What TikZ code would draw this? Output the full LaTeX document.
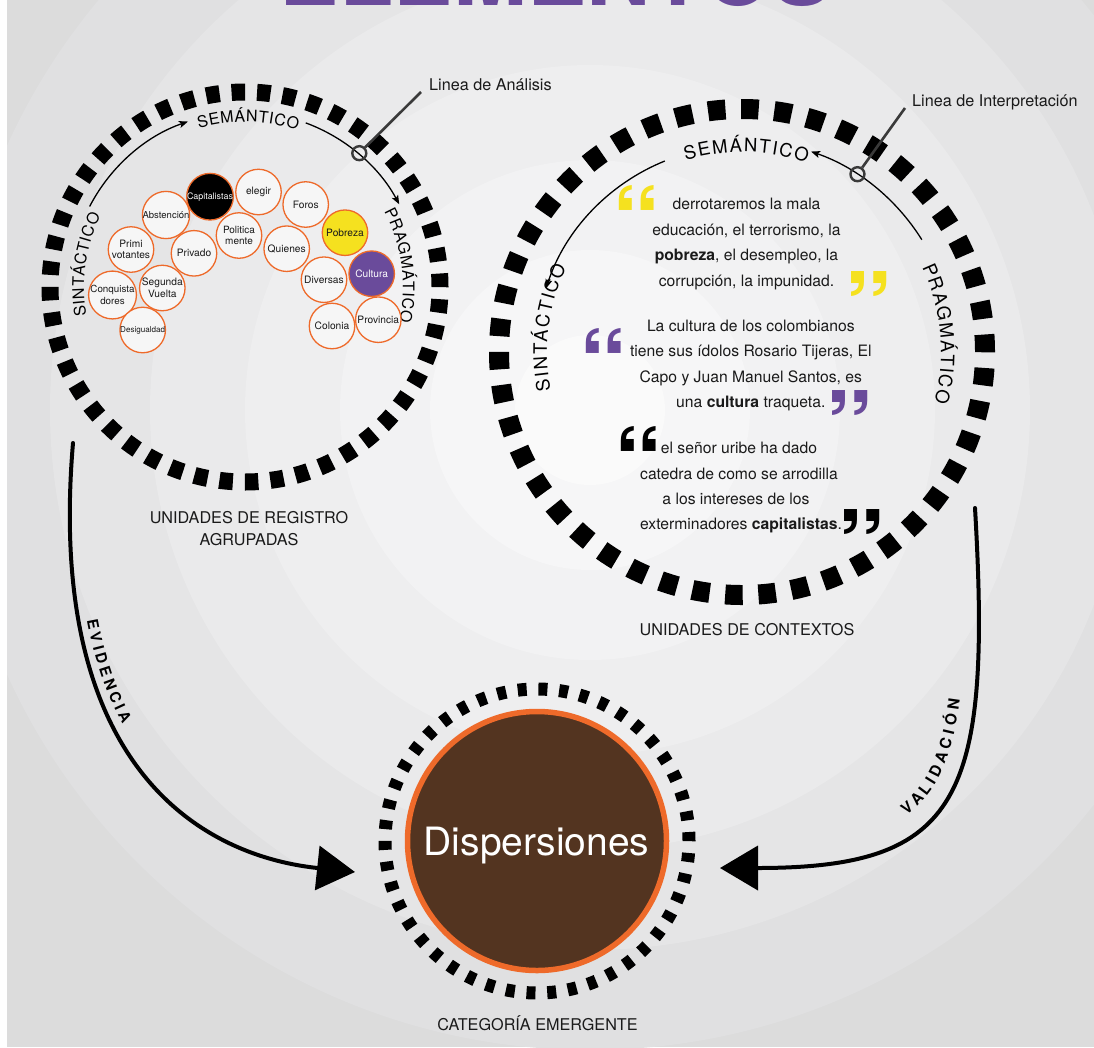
\documentclass[tikz,border=0pt]{standalone}
\usepackage{fontspec}
\setmainfont{TeX Gyre Heros}
\usetikzlibrary{arrows.meta,decorations.text}
\definecolor{orng}{HTML}{EE6A2A}
\definecolor{brwn}{HTML}{533420}
\definecolor{purp}{HTML}{6A4B9B}
\definecolor{yell}{HTML}{F5E11F}
\definecolor{pointer}{HTML}{3A3A3A}
\definecolor{bubfill}{HTML}{F6F6F6}
\definecolor{txt}{HTML}{1A1A1A}
\definecolor{bga}{HTML}{DCDCDC}
\definecolor{bgb}{HTML}{E0E0E1}
\definecolor{bgc}{HTML}{E5E5E6}
\definecolor{bgd}{HTML}{EAEAEB}
\definecolor{bge}{HTML}{EEEEEF}
\definecolor{bgf}{HTML}{F2F2F3}
\definecolor{bgg}{HTML}{F6F6F7}
\definecolor{bgh}{HTML}{FAFAFA}
\newcommand{\arclbl}[7]{%
  \path[decorate,decoration={text along path,text align=center,
    text={|\fontsize{#5}{#5}\selectfont\kern#6pt|#7}}]
    ([shift={(#3:#2)}]#1) arc[start angle=#3,end angle=#4,radius=#2];}
\tikzset{
  ringleft/.style={draw=black,circle,inner sep=0pt,minimum size=390pt,line width=17pt,dash pattern=on 13.5pt off 12.025pt},
  ringright/.style={draw=black,circle,inner sep=0pt,minimum size=486pt,line width=20pt,dash pattern=on 17.5pt off 15.69pt},
  ringdisp/.style={draw=black,circle,inner sep=0pt,minimum size=304pt,line width=13pt,dash pattern=on 9pt off 11.76pt},
  bub/.style={circle,draw=orng,line width=1.3pt,fill=bubfill,minimum size=45.5pt,inner sep=0pt,align=center,text=txt,font=\fontsize{10.2}{11.5}\selectfont},
  qt/.style={anchor=base,inner sep=0pt,text=txt,font=\fontsize{15.7}{18}\selectfont},
  lbl/.style={anchor=base,inner sep=0pt,text=txt,font=\fontsize{16.2}{19}\selectfont},
  qmark/.style={anchor=base west,inner sep=0pt,font=\bfseries\fontsize{96}{96}\selectfont},
  arcarrow/.style={line width=1.3pt,-{Stealth[length=9pt,width=7pt,inset=2pt]}},
  pointerline/.style={draw=pointer,line width=2.6pt},
  pointerdot/.style={circle,draw=pointer,line width=2.4pt,minimum size=14pt,inner sep=0pt},
  bigarrow/.style={line width=4pt,line cap=round,-{Triangle[length=38pt,width=44pt]}},
}
\begin{document}
\begin{tikzpicture}[x=1pt,y=1pt]
\useasboundingbox (0,0) rectangle (1094,-1047);
% background
\fill[white] (0,0) rectangle (1094,-1047);
\begin{scope}
\clip (7,0) rectangle (1094,-1047);
\fill[bga] (7,0) rectangle (1094,-1047);
\coordinate (bgcenter) at (590,-410);
\fill[bgb] (bgcenter) circle (640);
\fill[bgc] (bgcenter) circle (540);
\fill[bgd] (bgcenter) circle (440);
\fill[bge] (bgcenter) circle (345);
\fill[bgf] (bgcenter) circle (250);
\fill[bgg] (bgcenter) circle (160);
\fill[bgh] (bgcenter) circle (75);
\end{scope}
% title (cut by the page edge)
\node[anchor=base,inner sep=0pt,text=purp,font=\bfseries\fontsize{89}{89}\selectfont] (title) at (556,-5) {ELEMENTOS};
% centres
\coordinate (cL) at (245,-287);
\coordinate (cR) at (742,-352);
\coordinate (cD) at (537,-841);
% rings
\node[ringleft] (lring) at (cL) {};
\node[ringright] (rring) at (cR) {};
\node[ringdisp] (dring) at (cD) {};
\node[circle,fill=brwn,draw=orng,line width=5.5pt,minimum size=259pt,inner sep=0pt] (disp) at (cD) {};
\node[anchor=base,inner sep=0pt,text=white,font=\fontsize{39}{39}\selectfont] (disptxt) at (536.5,-855) {Dispersiones};
% inner arcs with arrows
\draw[arcarrow] ([shift={(152.6:175)}]cL) arc[start angle=152.6,end angle=109,radius=175];
\draw[arcarrow] ([shift={(69.7:175)}]cL) arc[start angle=69.7,end angle=28.2,radius=175];
\draw[arcarrow] ([shift={(32:212)}]cR) arc[start angle=32,end angle=71,radius=212];
\draw[arcarrow] ([shift={(112:206)}]cR) arc[start angle=112,end angle=162,radius=206];
% curved labels
\arclbl{cL}{165}{119}{59}{16}{0.6}{SEMÁNTICO}
\arclbl{cL}{161}{212}{132}{16}{0.6}{SINTÁCTICO}
\arclbl{cL}{158}{48}{-32}{16}{0.6}{PRAGMÁTICO}
\arclbl{cR}{200}{119}{59}{18.5}{1.6}{SEMÁNTICO}
\arclbl{cR}{195}{213}{133}{18.5}{1.6}{SINTÁCTICO}
\arclbl{cR}{199}{45.5}{-34.5}{18.5}{1.6}{PRAGMÁTICO}
% pointers
\node[pointerdot] (pdL) at ([shift={(49.5:176)}]cL) {};
\coordinate (ptL) at (421,-92);
\draw[pointerline] (pdL) -- (ptL);
\node[lbl,anchor=base west] (linA) at (429,-90) {Linea de Análisis};
\node[pointerdot] (pdR) at ([shift={(57:212)}]cR) {};
\coordinate (ptR) at (905,-108);
\draw[pointerline] (pdR) -- (ptR);
\node[lbl,anchor=base west] (linI) at (912,-106) {Linea de Interpretación};
% bubbles
\foreach \nm/\px/\py/\fs/\tx in {
 abst/166/215/9.5/Abstención,
 elegir/258.5/192/10.2/elegir,
 foros/305.7/204.5/10.2/Foros,
 polit/239/235.5/10/{Politica\\mente},
 primi/131/249.5/10.2/{Primi\\votantes},
 priv/194/253.3/10.2/Privado,
 quien/286.7/248.7/10.2/Quienes,
 diver/324/279.7/10.2/Diversas,
 conq/112.5/295/9.8/{Conquista\\dores},
 segun/162.3/288/10.2/{Segunda\\Vuelta},
 desig/142.7/330/8.1/Desigualdad,
 colon/332/326/10.2/Colonia,
 provin/378.3/319.7/10.2/Provincia}
 {\node[bub,font=\fontsize{\fs}{11.5}\selectfont] (\nm) at (\px,-\py) {\tx};}
\node[bub,fill=black,text=white,font=\fontsize{8.9}{10}\selectfont] (capit) at (210,-196.7) {Capitalistas};
\node[bub,fill=yell] (pobr) at (345,-232.7) {Pobreza};
\node[bub,fill=purp,text=white] (cult) at (371.7,-273.7) {Cultura};
% quote marks
\node[qmark,text=yell] (qy1) at (611.9,-255.3) {“};
\node[qmark,text=yell] (qy2) at (843.9,-341) {”};
\node[qmark,text=purp] (qp1) at (578.9,-398.6) {“};
\node[qmark,text=purp] (qp2) at (824.9,-460.7) {”};
\node[qmark,text=black] (qb1) at (613.9,-496.9) {“};
\node[qmark,text=black] (qb2) at (836.9,-579.7) {”};
% quotes
\node[qt] (qa1) at (746.5,-209.3) {derrotaremos la mala};
\node[qt] (qa2) at (746.5,-235) {educación, el terrorismo, la};
\node[qt] (qa3) at (746.5,-260.5) {\textbf{pobreza}, el desempleo, la};
\node[qt] (qa4) at (746.5,-286) {corrupción, la impunidad.};
\node[qt] (qb1t) at (750.8,-331.7) {La cultura de los colombianos};
\node[qt] (qb2t) at (750.8,-356.9) {tiene sus ídolos Rosario Tijeras, El};
\node[qt] (qb3t) at (750.8,-382) {Capo y Juan Manuel Santos, es};
\node[qt] (qb4t) at (750.8,-407) {una \textbf{cultura} traqueta.};
\node[qt] (qc1) at (739,-453.5) {el señor uribe ha dado};
\node[qt] (qc2) at (739,-479) {catedra de como se arrodilla};
\node[qt] (qc3) at (736,-504.5) {a los intereses de los};
\node[qt] (qc4) at (741,-529.5) {exterminadores \textbf{capitalistas}.};
% labels
\node[lbl] (reg1) at (249,-523) {UNIDADES DE REGISTRO};
\node[lbl] (reg2) at (249,-545) {AGRUPADAS};
\node[lbl] (ctx) at (747,-635) {UNIDADES DE CONTEXTOS};
\node[lbl] (cat) at (537.5,-1030) {CATEGORÍA EMERGENTE};
% big arrows
\coordinate (evs) at (73,-443);
\coordinate (eve) at (355,-872);
\draw[bigarrow] (evs) .. controls (46,-760) and (195,-855) .. (eve);
\path[decorate,decoration={text along path,text align={left indent=176pt},raise=8pt,
  text={|\bfseries\fontsize{15}{15}\selectfont\kern3.8pt|EVIDENCIA}}]
  (evs) .. controls (46,-760) and (195,-855) .. (eve);
\coordinate (vas) at (975,-508);
\coordinate (vae) at (720,-868);
\draw[bigarrow] (vas) .. controls (992,-800) and (960,-868) .. (vae);
\path[decorate,decoration={text along path,text align={left indent=198pt},raise=15pt,
  text={|\bfseries\fontsize{15.5}{15.5}\selectfont\kern5.2pt|VALIDACIÓN}}]
  (vae) .. controls (960,-868) and (992,-800) .. (vas);
\end{tikzpicture}
\end{document}
